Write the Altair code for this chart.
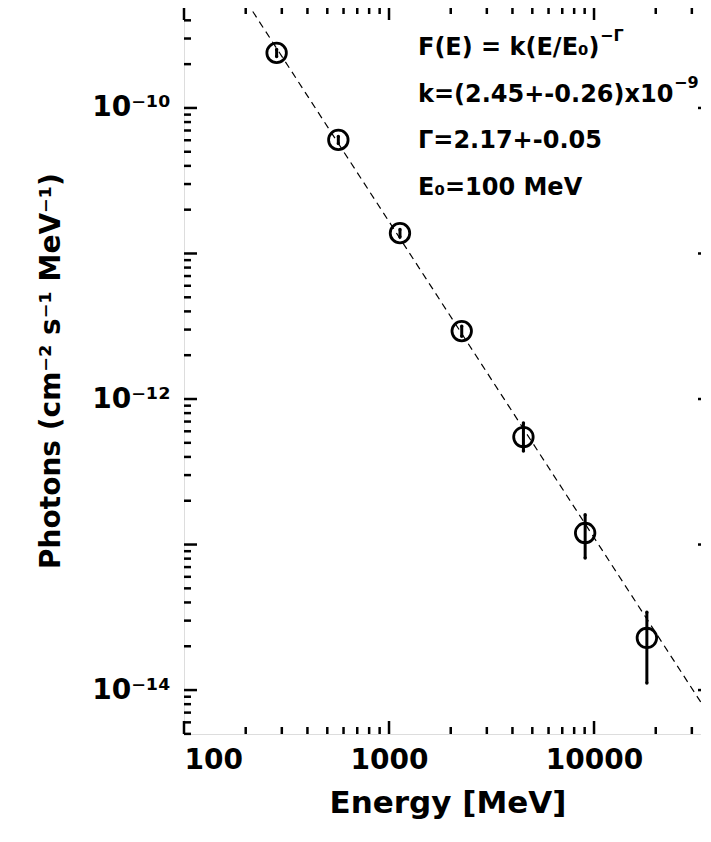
import pandas as pd
import altair as alt

# Spectrum points
energy = [283, 566, 1131, 2263, 4525, 9051, 18102]
flux = [2.39e-10, 6.03e-11, 1.38e-11, 2.93e-12, 5.48e-13, 1.20e-13, 2.28e-14]
flux_lo = [2.26e-10, 5.70e-11, 1.30e-11, 2.70e-12, 4.39e-13, 8.07e-14, 1.12e-14]
flux_hi = [2.52e-10, 6.36e-11, 1.46e-11, 3.16e-12, 6.84e-13, 1.60e-13, 3.43e-14]

# Fitted power law, end points
fit_energy = [150, 40000]
fit_flux = [1.02e-9, 5.5e-15]

x_major = [100, 1000, 10000]
x_minor = [200, 300, 400, 500, 600, 700, 800, 900,
           2000, 3000, 4000, 5000, 6000, 7000, 8000, 9000, 20000, 30000]
y_major = [1e-14, 1e-13, 1e-12, 1e-11, 1e-10]
y_minor = [m * 10.0 ** e for e in range(-15, -9) for m in range(2, 10)]
y_minor = [v for v in y_minor if 5.0e-15 < v < 4.9e-10]

W, H = 527, 727
FONT = "DejaVu Sans"
xdom = [100, 37200]
ydom = [4.99e-15, 4.94e-10]

xs = alt.Scale(type="log", domain=xdom, nice=False)
ys = alt.Scale(type="log", domain=ydom, nice=False)

pts = pd.DataFrame({"e": energy, "f": flux, "lo": flux_lo, "hi": flux_hi})
fit = pd.DataFrame({"e": fit_energy, "f": fit_flux})

ylabel_expr = ("datum.value > 5e-11 ? '10⁻¹⁰' : datum.value > 5e-13 && datum.value < 2e-12 ? '10⁻¹²' : "
               "datum.value < 2e-14 ? '10⁻¹⁴' : ''")

base = alt.Chart(pts)

line = alt.Chart(fit).mark_line(color="black", strokeDash=[7, 5], strokeWidth=1.2, clip=True).encode(
    x=alt.X("e:Q", scale=xs, axis=alt.Axis(values=x_major, format="d", tickSize=0, domain=False, grid=False,
                                          labelFont=FONT, labelFontSize=28, labelFontWeight="bold",
                                          labelColor="black", labelPadding=12, title="Energy [MeV]",
                                          titleFont=FONT, titleFontSize=31, titleFontWeight="bold",
                                          titleColor="black", titlePadding=14)),
    y=alt.Y("f:Q", scale=ys, axis=alt.Axis(values=[1e-14, 1e-12, 1e-10], labelExpr=ylabel_expr, tickSize=0,
                                          domain=False, grid=False, labelFont=FONT, labelFontSize=28,
                                          labelFontWeight="bold", labelColor="black", labelPadding=14,
                                          title="Photons (cm⁻² s⁻¹ MeV⁻¹)", titleFont=FONT,
                                          titleFontSize=28, titleFontWeight="bold", titleColor="black",
                                          titlePadding=26)),
)

errs = base.mark_rule(color="black", strokeWidth=3).encode(
    x="e:Q", y="lo:Q", y2="hi:Q")
caps_lo = base.mark_point(shape="circle", filled=True, color="black", size=12, opacity=1).encode(x="e:Q", y="lo:Q")
caps_hi = base.mark_point(shape="circle", filled=True, color="black", size=12, opacity=1).encode(x="e:Q", y="hi:Q")
dots = base.mark_point(shape="circle", filled=False, color="black", size=380, strokeWidth=2.8, opacity=1).encode(
    x="e:Q", y="f:Q")


def ticks(vals, axis, length):
    d = pd.DataFrame({"v": vals})
    c = alt.Chart(d).mark_rule(color="black", strokeWidth=2.5)
    if axis == "x":
        bot = c.encode(x=alt.X("v:Q", scale=xs), y=alt.value(H), y2=alt.value(H - length))
        top = c.encode(x=alt.X("v:Q", scale=xs), y=alt.value(0), y2=alt.value(length))
    else:
        bot = c.encode(y=alt.Y("v:Q", scale=ys), x=alt.value(0), x2=alt.value(length))
        top = c.encode(y=alt.Y("v:Q", scale=ys), x=alt.value(W), x2=alt.value(W - length))
    return bot + top


tick_layers = (ticks(x_major, "x", 13) + ticks(x_minor, "x", 7)
               + ticks(y_major, "y", 13) + ticks(y_minor, "y", 7))

txt = alt.Chart(pd.DataFrame({"a": [0]}))
tstyle = dict(font=FONT, fontWeight="bold", color="black", align="left", baseline="middle")
lines = [
    ("F(E) = k(E/E₀)", 41),
    ("k=(2.45+-0.26)x10", 88),
    ("Γ=2.17+-0.05", 134),
    ("E₀=100 MeV", 181),
]
annots = None
for s, yy in lines:
    t = txt.mark_text(fontSize=24, **tstyle).encode(x=alt.value(234), y=alt.value(yy), text=alt.value(s))
    annots = t if annots is None else annots + t
annots += txt.mark_text(fontSize=16, **tstyle).encode(x=alt.value(416), y=alt.value(29), text=alt.value("−Γ"))
annots += txt.mark_text(fontSize=16, **tstyle).encode(x=alt.value(490), y=alt.value(76), text=alt.value("−9"))

chart = alt.layer(line, tick_layers, errs, caps_lo, caps_hi, dots, annots).properties(
    width=W, height=H, autosize=alt.AutoSizeParams(type="none"),
    padding={"left": 176, "top": -1, "right": -10, "bottom": 85},
).configure_view(stroke="black", strokeWidth=3).configure(background="white")

chart.save("out.html", embed_options={"renderer": "svg", "actions": False})
